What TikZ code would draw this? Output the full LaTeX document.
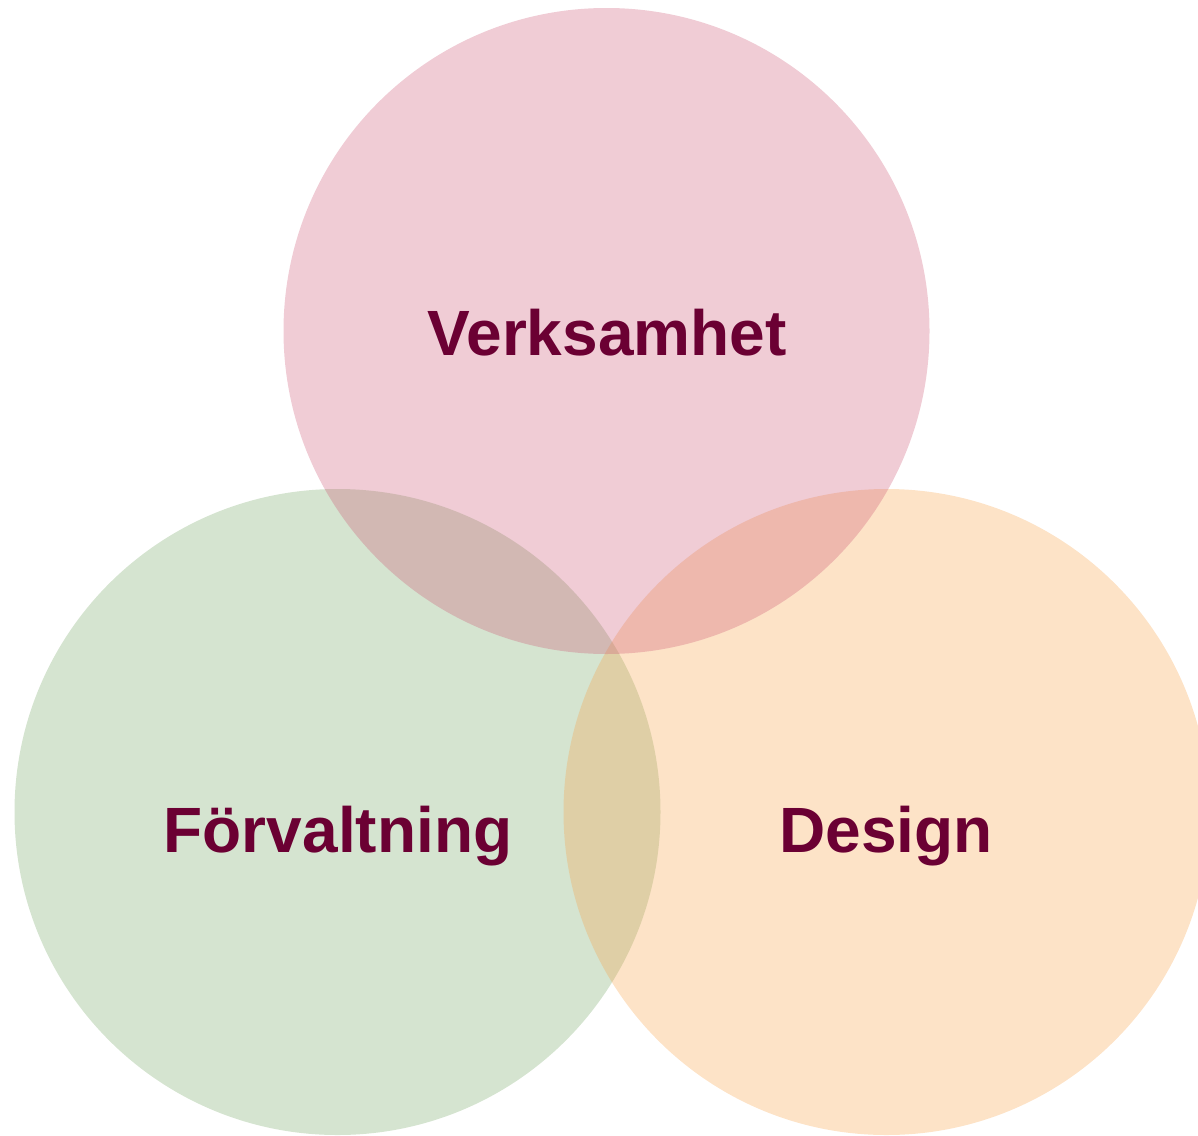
\documentclass[tikz,border=0pt]{standalone}
\usepackage{fontspec}
\setmainfont{Liberation Sans}
\definecolor{pinkc}{HTML}{CC5573}
\definecolor{greenc}{HTML}{73A563}
\definecolor{orangec}{HTML}{F7A147}
\definecolor{labelc}{HTML}{6B0033}
\begin{document}
\begin{tikzpicture}[x=1pt,y=-1pt,
  venn/.style={circle, minimum size=646pt, inner sep=0pt, draw=none, fill opacity=0.3},
  lbl/.style={anchor=base, text=labelc, font=\fontsize{64}{70}\selectfont\bfseries, inner sep=0pt}]
\useasboundingbox (0,0) rectangle (1198,1135);
\begin{scope}
\clip (0,0) rectangle (1198,1135);
\node[venn, fill=greenc] (left) at (337.5,812) {};
\node[venn, fill=orangec] (right) at (886.5,812) {};
\node[venn, fill=pinkc] (top) at (606.5,331) {};
\end{scope}
\node[lbl] (verk) at (607,355) {Verksamhet};
\node[lbl] (forv) at (338,852) {Förvaltning};
\node[lbl] (des) at (886,852) {Design};
\end{tikzpicture}
\end{document}
